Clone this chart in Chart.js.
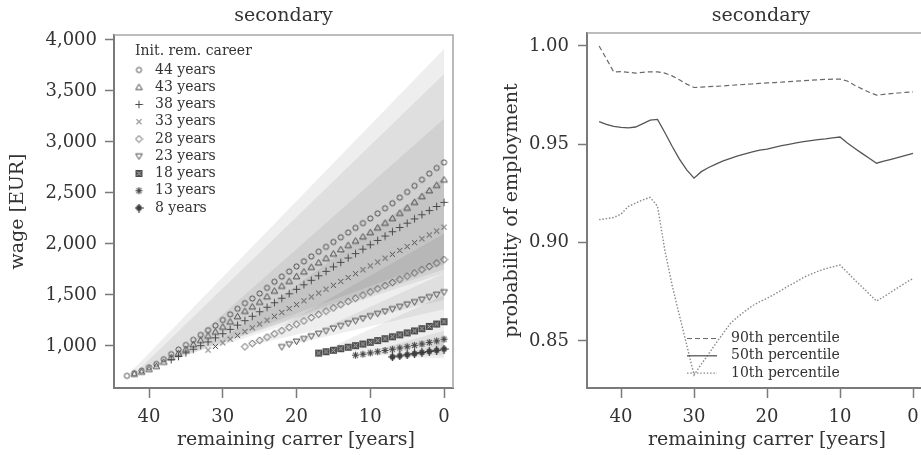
<!DOCTYPE html>
<html><head><meta charset="utf-8">
<script src="https://cdn.jsdelivr.net/npm/chart.js@4.4.1/dist/chart.umd.min.js"></script>
<style>
html,body{margin:0;padding:0;background:#fff;overflow:hidden;width:921px;height:455px;}
#wrap{position:relative;width:921px;height:455px;overflow:hidden;}
#c1{position:absolute;left:0;top:0;}
#c2{position:absolute;left:480px;top:0;}
</style></head><body>
<div id="wrap"><canvas id="c1" width="470" height="455"></canvas><canvas id="c2" width="460" height="455"></canvas></div>
<script>
// ---------- DATA ----------
const panelTitle = 'secondary';
const xTitle = 'remaining carrer [years]';
const wageTitle = 'wage [EUR]';
const empTitle = 'probability of employment';
const legendTitle = 'Init. rem. career';
const cohortYears = [44, 43, 38, 33, 28, 23, 18, 13, 8];
// wages per cohort, from first remaining year down to 0
const wage44 = [707,733,758,790,823,870,920,965,1010,1060,1108,1155,1200,1255,1310,1365,1420,1465,1515,1570,1630,1680,1730,1780,1830,1878,1925,1972,2020,2066,2112,2158,2204,2250,2300,2350,2400,2455,2510,2570,2630,2690,2745,2800];
const wage43 = [725,746,772,801,843,888,929,968,1014,1056,1099,1138,1187,1238,1290,1342,1385,1431,1484,1540,1588,1635,1682,1728,1773,1817,1860,1904,1946,1988,2030,2072,2114,2160,2206,2252,2303,2354,2410,2467,2524,2577,2630];
const wage38 = [865,897,932,968,1003,1040,1080,1120,1163,1205,1248,1292,1336,1380,1424,1468,1512,1556,1600,1644,1688,1732,1776,1820,1863,1906,1949,1992,2035,2078,2120,2162,2204,2246,2287,2328,2368,2408];
const wage33 = [960,995,1031,1067,1104,1141,1178,1215,1253,1291,1329,1367,1405,1443,1481,1519,1557,1595,1633,1671,1709,1747,1785,1823,1861,1899,1937,1975,2013,2051,2089,2127,2165];
const wage28 = [993,1024,1055,1087,1119,1150,1182,1214,1246,1278,1310,1342,1374,1406,1437,1468,1499,1530,1561,1592,1623,1654,1685,1716,1748,1780,1813,1847];
const wage23 = [990,1017,1044,1070,1096,1122,1147,1172,1197,1222,1246,1270,1293,1316,1339,1362,1385,1408,1431,1455,1480,1504,1528];
const wage18 = [930,944,958,973,988,1003,1019,1036,1053,1071,1090,1109,1128,1148,1170,1192,1215,1238];
const wage13 = [910,920,932,944,956,968,980,993,1006,1020,1035,1050,1066];
const wage8 = [893,903,914,925,936,947,958,970];
const wageSeries = [wage44, wage43, wage38, wage33, wage28, wage23, wage18, wage13, wage8];
// wage distribution band edges at remaining career 0 (fan from each cohort's start)
const fanHigh = [3912, 3667, 3228, 2650, 2100, 1713, 1500, 1150, 1040];
const fanLow  = [1850, 1800, 1750, 1713, 1450, 1360, 1000, 910, 880];
const wageTicks = [1000, 1500, 2000, 2500, 3000, 3500, 4000];
const yearTicks = [40, 30, 20, 10, 0];

const empYears = [43,42,41,40,39,38,37,36,35,34,33,32,31,30,29,28,27,26,25,24,23,22,21,20,19,18,17,16,15,14,13,12,11,10,9,8,7,6,5,4,3,2,1,0];
const p90 = [1.000,0.9935,0.9868,0.9870,0.9866,0.9862,0.9866,0.9869,0.9868,0.9862,0.9848,0.9828,0.9806,0.9789,0.9791,0.9793,0.9795,0.9797,0.9800,0.9802,0.9805,0.9807,0.9810,0.9812,0.9814,0.9816,0.9819,0.9821,0.9824,0.9826,0.9828,0.9830,0.9831,0.9831,0.9822,0.9800,0.9782,0.9765,0.9750,0.9754,0.9758,0.9761,0.9764,0.9767];
const p50 = [0.9615,0.9601,0.9591,0.9586,0.9584,0.9588,0.9605,0.9623,0.9627,0.9560,0.9490,0.9425,0.9370,0.9328,0.9361,0.9382,0.9399,0.9416,0.9429,0.9441,0.9451,0.9461,0.9470,0.9476,0.9485,0.9493,0.9500,0.9507,0.9514,0.9519,0.9524,0.9528,0.9533,0.9537,0.9507,0.9480,0.9454,0.9429,0.9404,0.9414,0.9424,0.9434,0.9444,0.9454];
const p10 = [0.9117,0.9122,0.9128,0.9145,0.9184,0.9201,0.9218,0.9230,0.9185,0.8962,0.8783,0.8630,0.8480,0.8327,0.8382,0.8434,0.8488,0.8539,0.8590,0.8623,0.8652,0.8679,0.8700,0.8717,0.8737,0.8759,0.8781,0.8801,0.8823,0.8840,0.8855,0.8867,0.8877,0.8886,0.8849,0.8811,0.8776,0.8739,0.8703,0.8725,0.8749,0.8773,0.8796,0.8818];
const percentileLabels = ['90th percentile', '50th percentile', '10th percentile'];
const empTicks = [0.85, 0.90, 0.95, 1.00];

// ---------- STYLE ----------
const FONT = '"DejaVu Serif", serif';
const TXT = '#333';
const AX = '#7a7a7a';
const markerKinds = ['circle','tri','plus','x','diamond','tridown','boxx','star','oplus'];

function marker(kind){
  const c = document.createElement('canvas'); c.width = 9; c.height = 9;
  const g = c.getContext('2d'); const m = 4.5;
  g.strokeStyle = '#4a4a4a'; g.fillStyle = '#4a4a4a'; g.lineWidth = 1;
  g.beginPath();
  switch(kind){
    case 'circle': g.arc(m,m,2.6,0,Math.PI*2); g.stroke(); break;
    case 'tri': g.moveTo(m,m-3.2); g.lineTo(m+3.3,m+2.4); g.lineTo(m-3.3,m+2.4); g.closePath(); g.stroke(); break;
    case 'plus': g.moveTo(m,m-3.8); g.lineTo(m,m+3.8); g.moveTo(m-3.8,m); g.lineTo(m+3.8,m); g.stroke(); break;
    case 'x': g.moveTo(m-2.6,m-2.6); g.lineTo(m+2.6,m+2.6); g.moveTo(m+2.6,m-2.6); g.lineTo(m-2.6,m+2.6); g.stroke(); break;
    case 'diamond': g.moveTo(m,m-3.4); g.lineTo(m+3.4,m); g.lineTo(m,m+3.4); g.lineTo(m-3.4,m); g.closePath(); g.stroke(); break;
    case 'tridown': g.moveTo(m,m+3.2); g.lineTo(m+3.3,m-2.4); g.lineTo(m-3.3,m-2.4); g.closePath(); g.stroke(); break;
    case 'boxx':
      g.fillStyle = '#555'; g.fillRect(1.5,1.5,6,6); g.strokeRect(1.5,1.5,6,6);
      g.beginPath(); g.strokeStyle = '#b5b5b5'; g.moveTo(2.5,2.5); g.lineTo(6.5,6.5); g.moveTo(6.5,2.5); g.lineTo(2.5,6.5); g.stroke(); break;
    case 'star':
      for (let k=0;k<4;k++){ const a=k*Math.PI/4; g.moveTo(m-3.6*Math.cos(a), m-3.6*Math.sin(a)); g.lineTo(m+3.6*Math.cos(a), m+3.6*Math.sin(a)); }
      g.lineWidth = 1.1; g.stroke(); break;
    case 'oplus':
      g.arc(m,m,2.9,0,Math.PI*2); g.fill();
      g.beginPath(); g.strokeStyle = '#3a3a3a'; g.lineWidth = 1.2; g.moveTo(m,m-4.4); g.lineTo(m,m+4.4); g.moveTo(m-4.4,m); g.lineTo(m+4.4,m); g.stroke(); break;
  }
  return c;
}
const markerImgs = markerKinds.map(marker);

function tickScale(list){ return s => { s.ticks = list.map(v => ({value: v})); }; }

// ---------- LEFT CHART ----------
const leftDatasets = [];
wageSeries.forEach((arr, i) => {
  leftDatasets.push({
    data: arr.map((v, j) => ({x: arr.length - 1 - j, y: v})),
    showLine: false, pointStyle: markerImgs[i], pointRadius: 4, borderWidth: 0
  });
});
wageSeries.forEach((arr, i) => {
  const start = {x: arr.length - 1, y: arr[0]};
  leftDatasets.push({ data: [start, {x: 0, y: fanLow[i]}], borderWidth: 0, pointRadius: 0, borderColor: 'rgba(0,0,0,0)', fill: false });
  leftDatasets.push({ data: [start, {x: 0, y: fanHigh[i]}], borderWidth: 0, pointRadius: 0, borderColor: 'rgba(0,0,0,0)', fill: '-1', backgroundColor: 'rgba(0,0,0,0.068)' });
});

function decorPlugin(cfg){
  return {
    id: 'decor',
    afterDraw(chart){
      const {ctx, chartArea: a} = chart;
      ctx.save();
      // top / right frame
      ctx.strokeStyle = '#a8a8a8'; ctx.lineWidth = 1.6;
      ctx.beginPath(); ctx.moveTo(a.left, a.top); ctx.lineTo(a.right, a.top); ctx.lineTo(a.right, a.bottom); ctx.stroke();
      ctx.fillStyle = TXT; ctx.textAlign = 'center'; ctx.textBaseline = 'middle';
      ctx.font = '19px ' + FONT;
      ctx.fillText(panelTitle, (a.left + a.right) / 2 + cfg.titleDx, 16);
      ctx.fillText(xTitle, (a.left + a.right) / 2 + 12.5, 440);
      ctx.save(); ctx.translate(cfg.yTitleX, (a.top + a.bottom) / 2); ctx.rotate(-Math.PI / 2);
      ctx.fillText(cfg.yTitle, 0, 0); ctx.restore();
      cfg.legend(ctx, a);
      ctx.restore();
    }
  };
}

const axisCommon = (tl, pad) => ({
  ticks: { font: { family: FONT, size: 18 }, color: TXT, padding: pad, autoSkip: false, maxRotation: 0 },
  grid: { drawOnChartArea: false, drawTicks: true, tickLength: tl, tickColor: AX, tickWidth: 1.5 },
  border: { display: true, color: AX, width: 2 }
});

new Chart(document.getElementById('c1'), {
  type: 'line',
  data: { datasets: leftDatasets },
  options: {
    responsive: false, animation: false, events: [],
    layout: { padding: { top: 35, right: 17, bottom: 0, left: 0 } },
    plugins: { legend: { display: false }, tooltip: { enabled: false } },
    scales: {
      x: Object.assign(axisCommon(10, 9), { type: 'linear', reverse: true, min: -1.22, max: 44.75,
        afterBuildTicks: tickScale(yearTicks), afterFit: s => { s.height = 67; } }),
      y: Object.assign(axisCommon(9, 8), { type: 'linear', min: 588, max: 4049,
        afterBuildTicks: tickScale(wageTicks), afterFit: s => { s.width = 114; } })
    }
  },
  plugins: [decorPlugin({
    titleDx: 0, yTitle: wageTitle, yTitleX: 18,
    legend(ctx, a){
      ctx.font = '14px ' + FONT; ctx.textAlign = 'left'; ctx.textBaseline = 'middle'; ctx.fillStyle = TXT;
      ctx.fillText(legendTitle, a.left + 21, a.top + 16);
      cohortYears.forEach((c, i) => {
        const yy = a.top + 35 + i * 17.25;
        ctx.drawImage(markerImgs[i], a.left + 25 - 4.5, yy - 4.5);
        ctx.fillText(c + ' years', a.left + 41, yy);
      });
    }
  })]
});

// ---------- RIGHT CHART ----------
const lineStyles = [
  { color: '#6a6a6a', dash: [5, 3], width: 1.2 },
  { color: '#555555', dash: [], width: 1.3 },
  { color: '#8a8a8a', dash: [1.5, 1.8], width: 1.4 }
];
const empSeries = [p90, p50, p10];
const rightDatasets = empSeries.map((arr, i) => ({
  label: percentileLabels[i],
  data: arr.map((v, j) => ({x: empYears[j], y: v})),
  borderColor: lineStyles[i].color, borderDash: lineStyles[i].dash, borderWidth: lineStyles[i].width,
  pointRadius: 0, fill: false, tension: 0
}));

new Chart(document.getElementById('c2'), {
  type: 'line',
  data: { datasets: rightDatasets },
  options: {
    responsive: false, animation: false, events: [],
    layout: { padding: { top: 33, right: 18, bottom: 0, left: 0 } },
    plugins: { legend: { display: false }, tooltip: { enabled: false } },
    scales: {
      x: Object.assign(axisCommon(10, 9), { type: 'linear', reverse: true, min: -1.23, max: 44.66,
        afterBuildTicks: tickScale(yearTicks), afterFit: s => { s.height = 67; } }),
      y: (() => { const o = Object.assign(axisCommon(9, 9), { type: 'linear', min: 0.8261, max: 1.0066,
        afterBuildTicks: tickScale(empTicks), afterFit: s => { s.width = 107; } });
        o.ticks.callback = v => v.toFixed(2); return o; })()
    }
  },
  plugins: [decorPlugin({
    titleDx: 6.5, yTitle: empTitle, yTitleX: 32,
    legend(ctx, a){
      ctx.font = '14px ' + FONT; ctx.textAlign = 'left'; ctx.textBaseline = 'middle'; ctx.fillStyle = TXT;
      percentileLabels.forEach((lab, i) => {
        const yy = a.top + 305.5 + i * 17.3;
        const st = lineStyles[i];
        ctx.save(); ctx.strokeStyle = st.color; ctx.lineWidth = st.width; ctx.setLineDash(st.dash);
        ctx.beginPath(); ctx.moveTo(a.left + 100, yy); ctx.lineTo(a.left + 130, yy); ctx.stroke(); ctx.restore();
        ctx.fillText(lab, a.left + 144, yy);
      });
    }
  })]
});
</script>
</body></html>
